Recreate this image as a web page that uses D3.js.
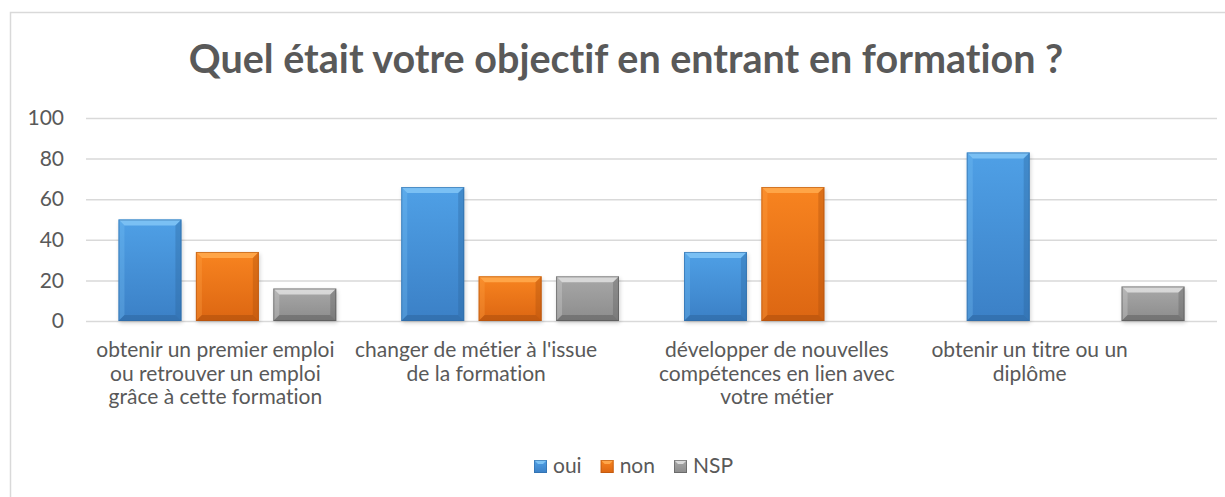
<!DOCTYPE html>
<html>
<head>
<meta charset="utf-8">
<script src="https://cdn.jsdelivr.net/npm/d3@7"></script>
<style>
  body { margin: 0; background: #fff; }
  svg { display: block; font-family: Lato, "Open Sans", sans-serif; font-variant-ligatures: none; font-feature-settings: "liga" 0, "dlig" 0; }
</style>
</head>
<body>
<div class="chart"></div>
<script>
// data
const categories = [
  ["obtenir un premier emploi", "ou retrouver un emploi", "grâce à cette formation"],
  ["changer de métier à l'issue", "de la formation"],
  ["développer de nouvelles", "compétences en lien avec", "votre métier"],
  ["obtenir un titre ou un", "diplôme"]
];
const seriesNames = ["oui", "non", "NSP"];
const oui = [50, 66, 34, 83];
const non = [34, 22, 66, 0];
const nsp = [16, 22, 0, 17];
const yTicks = [0, 20, 40, 60, 80, 100];
const title = "Quel était votre objectif en entrant en formation ?";

const W = 1225, H = 497;
const margin = {top: 118, right: 8, bottom: 176, left: 86};
const plotW = W - margin.left - margin.right;
const plotH = H - margin.top - margin.bottom;

// colours: [body top, body bottom, bevel light, bevel dark, edge]
const palette = {
  oui: ["#4fa0e6", "#3b80c6", "#7cc2f4", "#2c639c", "#2f6aa5"],
  non: ["#f88420", "#dc6612", "#ffa64a", "#a84c0c", "#b4530e"],
  NSP: ["#a8a8a8", "#8c8c8c", "#dadada", "#5c5c5c", "#555555"]
};

const values = {oui: oui, non: non, NSP: nsp};
const rows = categories.map((c, i) => ({
  idx: i,
  lines: c,
  bars: seriesNames.map(s => ({series: s, value: values[s][i]}))
}));

const svg = d3.select(".chart").append("svg")
  .attr("width", W)
  .attr("height", H);

const defs = svg.append("defs");
seriesNames.forEach(s => {
  const g = defs.append("linearGradient")
    .attr("id", "grad-" + s)
    .attr("x1", 0).attr("y1", 0).attr("x2", 0).attr("y2", 1);
  g.append("stop").attr("offset", "0%").attr("stop-color", palette[s][0]);
  g.append("stop").attr("offset", "100%").attr("stop-color", palette[s][1]);
});
defs.append("filter").attr("id", "shadow")
  .attr("x", "-20%").attr("y", "-20%").attr("width", "140%").attr("height", "140%")
  .append("feGaussianBlur").attr("stdDeviation", 2);

// chart frame
svg.append("rect")
  .attr("x", 10.5).attr("y", 12.5)
  .attr("width", 1240).attr("height", 520)
  .attr("fill", "none")
  .attr("stroke", "#d9d9d9")
  .attr("stroke-width", 1.5);

svg.append("text")
  .attr("x", 626)
  .attr("y", 73)
  .attr("text-anchor", "middle")
  .attr("fill", "#595959")
  .attr("font-weight", "bold")
  .attr("font-size", 39.5)
  .text(title);

const chart = svg.append("g")
  .attr("transform", `translate(${margin.left},${margin.top})`);

const y = d3.scaleLinear().domain([0, 100]).range([plotH, 0]);

const x0 = d3.scaleBand()
  .domain(d3.range(categories.length))
  .range([0, plotW]);

const x1 = d3.scaleBand()
  .domain(seriesNames)
  .range([0, x0.bandwidth()])
  .paddingInner(0.187)
  .paddingOuter(0.42);

// gridlines + y axis labels
const yAxis = d3.axisLeft(y).tickValues(yTicks).tickSize(-plotW).tickPadding(22);
const yg = chart.append("g").attr("class", "yaxis").call(yAxis);
yg.select(".domain").remove();
yg.selectAll(".tick line").attr("stroke", "#d9d9d9").attr("stroke-width", 1.5);
yg.selectAll(".tick text")
  .attr("fill", "#595959")
  .attr("font-size", 21)
  .attr("font-family", "Lato, 'Open Sans', sans-serif");

// bars
const groups = chart.selectAll("g.grp")
  .data(rows)
  .join("g")
  .attr("class", "grp")
  .attr("transform", d => `translate(${x0(d.idx)},0)`);

const bar = groups.selectAll("g.bar")
  .data(d => d.bars.filter(b => b.value > 0))
  .join("g")
  .attr("class", "bar");

bar.each(function (d) {
  const g = d3.select(this);
  const c = palette[d.series];
  const bx = x1(d.series), bw = x1.bandwidth();
  const by = y(d.value), bh = plotH - by;
  const b = Math.min(6, bh / 2);

  g.append("rect")
    .attr("x", bx + 1).attr("y", by + 2)
    .attr("width", bw).attr("height", bh)
    .attr("fill", "#000").attr("opacity", 0.18)
    .attr("filter", "url(#shadow)");

  g.append("rect")
    .attr("x", bx).attr("y", by)
    .attr("width", bw).attr("height", bh)
    .attr("fill", `url(#grad-${d.series})`);

  const poly = (pts, fill, op) => g.append("polygon")
    .attr("points", pts.map(p => p.join(",")).join(" "))
    .attr("fill", fill).attr("opacity", op);

  poly([[bx, by], [bx + bw, by], [bx + bw - b, by + b], [bx + b, by + b]], c[2], 0.95);
  poly([[bx, by], [bx + b, by + b], [bx + b, by + bh - b], [bx, by + bh]], c[2], 0.3);
  poly([[bx + bw, by], [bx + bw - b, by + b], [bx + bw - b, by + bh - b], [bx + bw, by + bh]], c[3], 0.35);
  poly([[bx, by + bh], [bx + b, by + bh - b], [bx + bw - b, by + bh - b], [bx + bw, by + bh]], c[3], 0.5);

  g.append("rect")
    .attr("x", bx + 0.5).attr("y", by + 0.5)
    .attr("width", bw - 1).attr("height", bh - 1)
    .attr("fill", "none")
    .attr("stroke", c[4]).attr("stroke-opacity", 0.6);
});

// category labels (Excel draws them a little left of the band centre)
const labelNudge = [-12, -34, -16, -46];
const xl = chart.append("g").attr("class", "xlabels");
rows.forEach(r => {
  const t = xl.append("text")
    .attr("text-anchor", "middle")
    .attr("fill", "#595959")
    .attr("font-size", 21)
    .attr("transform", `translate(${x0(r.idx) + x0.bandwidth() / 2 + labelNudge[r.idx]},${plotH + 36})`);
  r.lines.forEach((ln, i) => {
    t.append("tspan").attr("x", 0).attr("dy", i === 0 ? 0 : 23.5).text(ln);
  });
});

// legend
const legend = svg.append("g").attr("transform", "translate(534,460)");
let lx = 0;
seriesNames.forEach(s => {
  const c = palette[s];
  const it = legend.append("g").attr("transform", `translate(${lx},0)`);
  it.append("rect").attr("width", 13).attr("height", 13).attr("fill", `url(#grad-${s})`);
  it.append("polygon").attr("points", "0,0 13,0 9,4 4,4").attr("fill", c[2]);
  it.append("rect").attr("x", 0.5).attr("y", 0.5).attr("width", 12).attr("height", 12)
    .attr("fill", "none").attr("stroke", c[4]).attr("stroke-opacity", 0.6);
  const tx = it.append("text")
    .attr("x", 19).attr("y", 12.5)
    .attr("fill", "#595959")
    .attr("font-size", 21)
    .text(s);
  lx += 19 + tx.node().getComputedTextLength() + 19;
});
</script>
</body>
</html>
